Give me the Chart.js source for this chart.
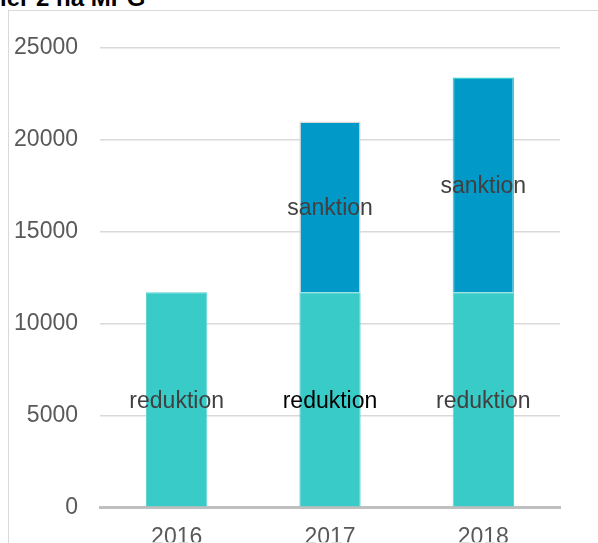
<!DOCTYPE html>
<html><head><meta charset="utf-8">
<script src="https://cdn.jsdelivr.net/npm/chart.js@4"></script>
<style>
html,body{margin:0;padding:0;background:#fff;overflow:hidden}
#wrap{position:relative;width:598px;height:543px}
#box{position:absolute;left:8px;top:10px;width:600px;height:600px;border-left:1.5px solid #d9d9d9;border-top:1.5px solid #d9d9d9}
#title{position:absolute;left:0;top:-16px;font:bold 24px "Liberation Sans",Arial,sans-serif;line-height:28px;color:#000;white-space:nowrap}
canvas{position:absolute;left:0;top:0}
</style></head>
<body><div id="wrap"><div id="box"></div><div id="title">ler 2 na MPG</div><canvas id="c" width="598" height="543"></canvas></div>
<script>
const categories = ["2016","2017","2018"];
const reduktion = [11700, 11700, 11700];
const sanktion = [null, 9300, 11700];
const seriesNames = ["reduktion","sanktion"];
const yTicks = [0,5000,10000,15000,20000,25000];

const FONT = '"Liberation Sans", Arial, sans-serif';
const labelPlugin = {
  id:'lbl',
  afterDatasetsDraw(chart){
    const ctx = chart.ctx;
    ctx.save();
    ctx.font = '23px ' + FONT;
    ctx.textAlign='center'; ctx.textBaseline='middle';
    chart.data.datasets.forEach((ds,di)=>{
      const meta = chart.getDatasetMeta(di);
      meta.data.forEach((bar,i)=>{
        if(ds.data[i]==null) return;
        const p = bar.getProps(['x','y','base'],true);
        ctx.fillStyle = (di===0 && i===1) ? '#000000' : '#404040';
        ctx.fillText(seriesNames[di], p.x, (p.y+p.base)/2 + 2);
      });
    });
    ctx.restore();
  }
};

new Chart(document.getElementById('c'),{
  type:'bar',
  data:{labels:categories,datasets:[
    {label:seriesNames[0],data:reduktion,backgroundColor:'#38CBC8',borderColor:'#5fd3d0',borderWidth:{left:1,right:1,top:1,bottom:0},barPercentage:0.5,categoryPercentage:0.8,stack:'s'},
    {label:seriesNames[1],data:sanktion,backgroundColor:'#0099C8',borderColor:['#d9d9d9','#d9d9d9','#3dcfd0'],borderWidth:1.5,barPercentage:0.5,categoryPercentage:0.8,stack:'s'}
  ]},
  options:{
    responsive:false,animation:false,
    layout:{padding:{left:0,right:38,top:48,bottom:0}},
    plugins:{legend:{display:false},tooltip:{enabled:false}},
    scales:{
      x:{stacked:true,
        grid:{display:false,drawTicks:false},
        border:{display:true,color:'#bfbfbf',width:3},
        ticks:{padding:17,color:'#595959',font:{size:23,family:FONT}},
        afterFit(s){s.height=35;}
      },
      y:{stacked:true,min:0,max:25000,
        afterBuildTicks(s){s.ticks=yTicks.map(v=>({value:v}));},
        grid:{color:'#d9d9d9',lineWidth:1.5,drawTicks:false},
        border:{display:false},
        ticks:{padding:22,color:'#595959',font:{size:23,family:FONT},callback:v=>String(v)},
        afterFit(s){s.width=100;}
      }
    }
  },
  plugins:[labelPlugin]
});
</script></body></html>
